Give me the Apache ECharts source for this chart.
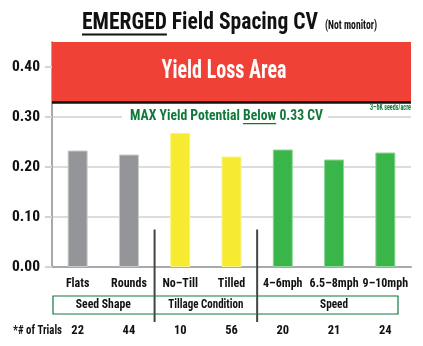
<!DOCTYPE html>
<html><head><meta charset="utf-8">
<script src="https://cdn.jsdelivr.net/npm/echarts@6/dist/echarts.min.js"></script>
<style>html,body{margin:0;padding:0;background:#fff}#c{width:423px;height:346px}</style>
</head><body><div id="c"></div>
<script>
// ---- data ----
const categories = ['Flats', 'Rounds', 'No–Till', 'Tilled', '4–6mph', '6.5–8mph', '9–10mph'];
const cvValues = [0.233, 0.225, 0.268, 0.221, 0.235, 0.215, 0.229];
const barColors = ['#939598', '#939598', '#f6eb31', '#f6eb31', '#3ab54a', '#3ab54a', '#3ab54a'];
const barBorders = ['#c9cacc', '#c9cacc', '#fbf38a', '#fbf38a', '#8fd597', '#8fd597', '#8fd597'];
const trials = ['22', '44', '10', '56', '20', '21', '24'];
const groupNames = ['Seed Shape', 'Tillage Condition', 'Speed'];
const groupFrom = [0, 2, 4];
const groupTo = [1, 3, 6];
const yTicks = [0, 0.1, 0.2, 0.3, 0.4];
const yieldLossThreshold = 0.33;
const yMax = 0.45;

const F = "'Roboto Condensed','Open Sans Condensed',sans-serif";
const GREEN = '#10793a';

const chart = echarts.init(document.getElementById('c'), null, {renderer: 'canvas'});

chart.setOption({
  animation: false,
  backgroundColor: '#fff',
  grid: {left: 52, right: 12, top: 42, bottom: 79, containLabel: false},
  xAxis: {
    type: 'category',
    data: categories,
    axisLine: {show: true, lineStyle: {color: '#a7a9ac', width: 2}},
    axisTick: {show: false},
    axisLabel: {color: '#111', fontFamily: F, fontWeight: 'bold', fontSize: 12, margin: 11, interval: 0}
  },
  yAxis: {
    type: 'value',
    min: 0, max: yMax, interval: 0.1,
    axisLine: {show: true, lineStyle: {color: '#a7a9ac', width: 2}},
    axisTick: {show: true, length: 7, lineStyle: {color: '#d4d4d4', width: 2}, customValues: yTicks},
    axisLabel: {
      color: '#111', fontFamily: F, fontWeight: 'bold', fontSize: 15.5, margin: 12,
      customValues: yTicks,
      formatter: v => v.toFixed(2)
    },
    splitLine: {show: true, lineStyle: {color: '#dcdcdc', width: 2}}
  },
  series: [{
    type: 'bar',
    barWidth: 20,
    data: cvValues.map((v, i) => ({
      value: v,
      itemStyle: {color: barColors[i], borderColor: barBorders[i], borderWidth: 1}
    })),
    markArea: {
      silent: true,
      itemStyle: {color: '#ef4136'},
      label: {show: false},
      data: [[{yAxis: yieldLossThreshold}, {yAxis: yMax}]]
    },
    markLine: {
      silent: true,
      symbol: 'none',
      label: {show: false},
      lineStyle: {color: '#111', width: 2.5, type: 'solid'},
      data: [{yAxis: yieldLossThreshold}]
    }
  }]
});

// ---- decorations ----
const ctx = document.createElement('canvas').getContext('2d');
function tw(text, font) { ctx.font = font; return ctx.measureText(text).width; }
const px = i => chart.convertToPixel({xAxisIndex: 0}, categories[i]);
const py = v => chart.convertToPixel({yAxisIndex: 0}, v);
const g = [];
// text with horizontal squeeze to match the condensed look
function txt(text, x, y, size, targetW, fill, align) {
  const font = `bold ${size}px ${F}`;
  const w = tw(text, font);
  const sx = targetW ? targetW / w : 1;
  g.push({type: 'text', x, y, scaleX: sx, style: {text, font, fill: fill || '#111', align: align || 'left', verticalAlign: 'middle'}});
  return w * sx;
}

// Title
const tY = 23;
txt('EMERGED Field Spacing CV', 82, tY, 24, 236);
const emW = tw('EMERGED', `bold 24px ${F}`) * (236 / tw('EMERGED Field Spacing CV', `bold 24px ${F}`));
g.push({type: 'rect', shape: {x: 82, y: 33.5, width: emW, height: 2}, style: {fill: '#111'}});
txt('(Not monitor)', 325, tY + 3, 13, 52);

// Yield loss text
txt('Yield Loss Area', 224, py((yieldLossThreshold + yMax) / 2) - 0.5, 25, 125, '#fff', 'center');

// MAX Yield Potential text
const my = py(0.3) - 0.5;
g.push({type: 'rect', shape: {x: 122, y: my - 7, width: 206, height: 14}, style: {fill: '#fff'}});
const mFont = `bold 14px ${F}`;
const mFull = 'MAX Yield Potential Below 0.33 CV';
const mScale = 193 / tw(mFull, mFont);
txt(mFull, 130, my, 14, 193, GREEN);
const bx = 130 + tw('MAX Yield Potential ', mFont) * mScale;
g.push({type: 'rect', shape: {x: bx, y: my + 6.5, width: tw('Below', mFont) * mScale, height: 1.3}, style: {fill: GREEN}});
txt('3–6K seeds/acre', 411, py(0.3) - 9, 8.5, 41, GREEN, 'right');

// separators
[(px(1) + px(2)) / 2, (px(3) + px(4)) / 2].forEach(x =>
  g.push({type: 'line', shape: {x1: x, y1: py(0.075), x2: x, y2: 322}, style: {stroke: '#444', lineWidth: 2}}));

// group box
const boxL = 53, boxR = 398, boxT = 296, boxB = 314;
g.push({type: 'rect', shape: {x: boxL, y: boxT, width: boxR - boxL, height: boxB - boxT}, style: {fill: 'none', stroke: GREEN, lineWidth: 1.2}});
const gW = [55, 75, 28];
groupNames.forEach((n, i) => {
  const cx = (px(groupFrom[i]) + px(groupTo[i])) / 2;
  txt(n, cx, (boxT + boxB) / 2, 12.5, gW[i], '#111', 'center');
});

// trials row
txt('*# of Trials', 13, 331, 12.5, 49);
trials.forEach((t, i) => txt(t, px(i), 331, 12.5, null, '#111', 'center'));

chart.setOption({graphic: g.map(e => Object.assign({z: 10}, e))});
</script></body></html>
